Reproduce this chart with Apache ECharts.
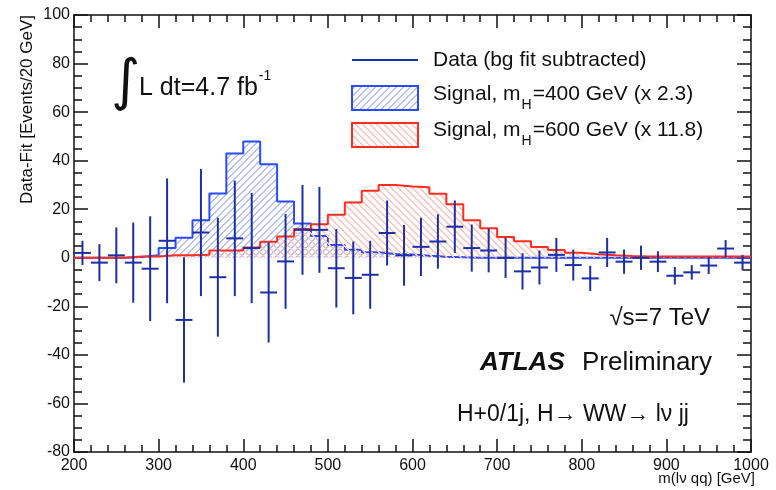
<!DOCTYPE html>
<html>
<head>
<meta charset="utf-8">
<script src="https://cdn.jsdelivr.net/npm/echarts@6/dist/echarts.min.js"></script>
<style>
  html, body { margin: 0; padding: 0; background: #fff; }
  #chart { width: 776px; height: 490px; }
</style>
</head>
<body>
<div id="chart"></div>
<script>
// bin centres (20 GeV bins)
const massCentres = [210, 230, 250, 270, 290, 310, 330, 350, 370, 390,
    410, 430, 450, 470, 490, 510, 530, 550, 570, 590,
    610, 630, 650, 670, 690, 710, 730, 750, 770, 790,
    810, 830, 850, 870, 890, 910, 930, 950, 970, 990];

// data - fit, with error
const dataValues = [2, -2, 1, -2, -4.5, 7, -25.6, 10.4, -8, 8,
    4, -14.3, -1.5, 11.5, 11.5, -4.3, -8.3, -7, 10.2, 1,
    4.5, 6.7, 12.8, 4, 3, 0, -5.6, -4, 1.2, -3,
    -8.5, 2.2, -1.6, 0, -1.6, -7.4, -6, -3.2, 3.8, -2];
const dataErrors = [5, 7.6, 11.5, 16.5, 21.6, 25.7, 25.8, 26.2, 24.5, 23.8,
    22.7, 20.6, 19.5, 18.5, 17.7, 16.2, 15, 14, 13.4, 12.5,
    12, 11.2, 10.8, 9.7, 9, 8.3, 7.5, 7, 7, 6.4,
    5.2, 6, 5, 5, 4.3, 3.6, 3, 3.5, 3.5, 3.2];

// signal mH=400 (x 2.3)
const signal400 = [0, 0, 0, 0.3, 1, 4, 8.2, 15.5, 26.5, 43,
    47.9, 38.5, 23.2, 14.1, 9, 5.3, 3.3, 2.3, 1.6, 1.4,
    0.8, 0.4, 0.2, 0, 0, 0, 0, 0, 0, 0,
    0, 0, 0, 0, 0, 0, 0, 0, 0, 0];
// signal mH=600 (x 11.8)
const signal600 = [0, 0, 0, 0.5, 0.5, 1, 1, 1.2, 3, 3,
    4.2, 6.6, 8.8, 11.9, 13.8, 17.7, 22.8, 27.6, 30, 29.4,
    29.1, 26.4, 22, 15.5, 12.2, 8.6, 6.8, 4.4, 3.2, 2.1,
    1.5, 1, 0.7, 0.5, 0.5, 0.5, 0.5, 0.5, 0.5, 0.5];

const binHalf = 10;
const dataColor = '#1d2fa6';
const blueColor = '#2a4bff';
const redColor = '#ff2d1f';
const fontFam = '"Liberation Sans", Arial, sans-serif';

// hatch pattern tile: diagonal stroke, 2 px thick
function makeHatch(color, up) {
    const s = 7;
    const c = document.createElement('canvas');
    c.width = s; c.height = s;
    const g = c.getContext('2d');
    g.fillStyle = color;
    for (let i = 0; i < s; i++) {
        const y = up ? s - 1 - i : i;
        g.fillRect(i, y, 1, 1);
        g.fillRect((i + 1) % s, y, 1, 1);
    }
    return { image: c, repeat: 'repeat' };
}
const blueHatch = makeHatch('#b4c0fb', true);
const redHatch = makeHatch('#ffc4bd', false);

// step histogram points from bin centres
function stepPoints(values) {
    const pts = massCentres.map((m, i) => [m - binHalf, values[i]]);
    pts.push([massCentres[massCentres.length - 1] + binHalf, values[values.length - 1]]);
    return pts;
}

const measureCtx = document.createElement('canvas').getContext('2d');
function textWidth(str, size) {
    measureCtx.font = size + 'px ' + fontFam;
    return measureCtx.measureText(str).width;
}

function txt(x, y, text, size, opts) {
    opts = opts || {};
    return {
        type: 'text', x: x, y: y, rotation: opts.rotation || 0, z: 100,
        style: {
            text: text,
            font: (opts.weight || '') + ' ' + size + 'px ' + (opts.family || fontFam),
            fill: opts.color || '#111',
            align: opts.align || 'left',
            textAlign: opts.align || 'left',
            verticalAlign: 'middle',
            textVerticalAlign: 'middle'
        }
    };
}

// 图例与注释
const legX = 352, legTextX = 433, legFont = 21;
const graphics = [];
graphics.push({
    type: 'line', z: 100,
    shape: { x1: legX, y1: 60, x2: 418, y2: 60 },
    style: { stroke: dataColor, lineWidth: 2 }
});
graphics.push({
    type: 'rect', z: 100,
    shape: { x: legX, y: 86, width: 66, height: 24 },
    style: { fill: blueHatch, stroke: blueColor, lineWidth: 2 }
});
graphics.push({
    type: 'rect', z: 100,
    shape: { x: legX, y: 123, width: 66, height: 24 },
    style: { fill: redHatch, stroke: redColor, lineWidth: 2 }
});
graphics.push(txt(legTextX, 60, 'Data (bg fit subtracted)', legFont));
[[94, '=400 GeV (x 2.3)'], [130, '=600 GeV (x 11.8)']].forEach(([y, rest]) => {
    const w1 = textWidth('Signal, m', legFont);
    const w2 = textWidth('H', 14);
    graphics.push(txt(legTextX, y, 'Signal, m', legFont));
    graphics.push(txt(legTextX + w1 + 1, y + 11, 'H', 14));
    graphics.push(txt(legTextX + w1 + w2 + 2, y, rest, legFont));
});

// integrated luminosity
graphics.push(txt(111, 84, '\u222B', 56, { family: '"DejaVu Sans"' }));
const lumiW = textWidth('L dt=4.7 fb', 25);
graphics.push(txt(139, 88, 'L dt=4.7 fb', 25));
graphics.push(txt(139 + lumiW + 1, 76, '-1', 14));

graphics.push(txt(710, 318, '\u221As=7 TeV', 24, { align: 'right' }));
graphics.push(txt(480, 363, 'ATLAS', 26, { weight: 'italic bold' }));
graphics.push(txt(582, 363, 'Preliminary', 26));
graphics.push(txt(457, 415, 'H+0/1j, H\u2192 WW\u2192 l\u03BD jj', 23));

// axis titles
graphics.push(txt(27, 15, 'Data-Fit [Events/20 GeV]', 17, { align: 'right', rotation: Math.PI / 2 }));
graphics.push(txt(755, 479, 'm(l\u03BD qq) [GeV]', 15, { align: 'right' }));

const chart = echarts.init(document.getElementById('chart'), null, { renderer: 'canvas' });

const axisLineStyle = { color: '#111', width: 1.5 };
function xAx(pos, labels) {
    return {
        type: 'value', position: pos, min: 200, max: 1000, interval: 100,
        axisLine: { show: true, onZero: false, lineStyle: axisLineStyle },
        axisTick: { show: true, inside: true, length: 13, lineStyle: axisLineStyle },
        minorTick: { show: true, splitNumber: 5, length: 7, lineStyle: axisLineStyle },
        axisLabel: { show: labels, fontSize: 16, color: '#111', margin: 6, fontFamily: fontFam,
            formatter: v => String(v) },
        splitLine: { show: false }
    };
}
function yAx(pos, labels) {
    return {
        type: 'value', position: pos, min: -80, max: 100, interval: 20,
        axisLine: { show: true, onZero: false, lineStyle: axisLineStyle },
        axisTick: { show: true, inside: true, length: 14, lineStyle: axisLineStyle },
        minorTick: { show: true, splitNumber: 4, length: 8, lineStyle: axisLineStyle },
        axisLabel: { show: labels, fontSize: 16, color: '#111', margin: 4, fontFamily: fontFam,
            formatter: v => String(v) },
        splitLine: { show: false }
    };
}

const option = {
    animation: false,
    backgroundColor: '#fff',
    grid: { left: 74, right: 25, top: 15, bottom: 38, containLabel: false },
    xAxis: [xAx('bottom', true), xAx('top', false)],
    yAxis: [yAx('left', true), yAx('right', false)],
    series: [
        {
            name: 'Signal, mH=400 GeV (x 2.3)',
            type: 'line', step: 'end', showSymbol: false,
            data: stepPoints(signal400),
            lineStyle: { color: blueColor, width: 2 },
            areaStyle: { color: blueHatch, opacity: 1 },
            z: 2
        },
        {
            name: 'Signal, mH=600 GeV (x 11.8)',
            type: 'line', step: 'end', showSymbol: false,
            data: stepPoints(signal600),
            lineStyle: { color: redColor, width: 2 },
            areaStyle: { color: redHatch, opacity: 1 },
            z: 3
        },
        {
            name: 'Data (bg fit subtracted)',
            type: 'custom',
            data: massCentres.map((m, i) => [m, dataValues[i], dataErrors[i]]),
            encode: { x: 0, y: 1 },
            z: 5,
            renderItem: function (params, api) {
                const x = api.value(0), y = api.value(1), e = api.value(2);
                const l = api.coord([x - binHalf, y]);
                const r = api.coord([x + binHalf, y]);
                const t = api.coord([x, y + e]);
                const b = api.coord([x, y - e]);
                const style = { stroke: dataColor, lineWidth: 2 };
                return {
                    type: 'group',
                    children: [
                        { type: 'line', shape: { x1: l[0], y1: l[1], x2: r[0], y2: r[1] }, style: style },
                        { type: 'line', shape: { x1: t[0], y1: t[1], x2: b[0], y2: b[1] }, style: style }
                    ]
                };
            }
        }
    ],
    graphic: graphics
};

chart.setOption(option);
</script>
</body>
</html>
